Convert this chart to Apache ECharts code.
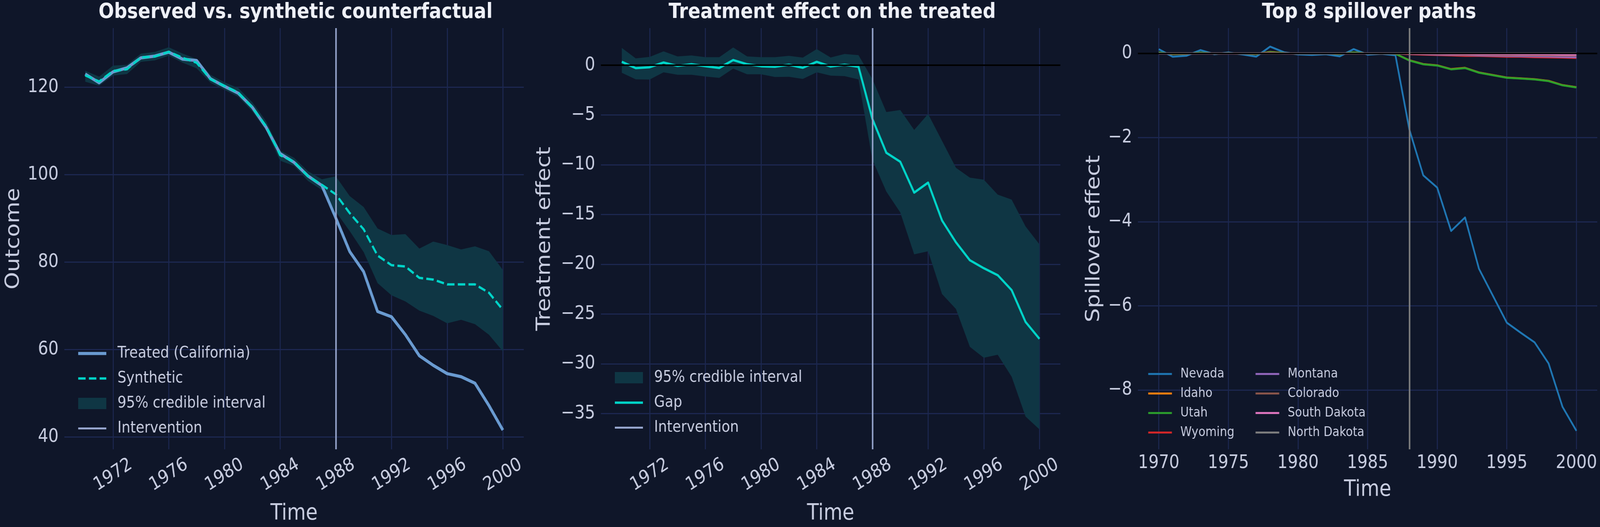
<!DOCTYPE html>
<html>
<head>
<meta charset="utf-8">
<script src="https://cdn.jsdelivr.net/npm/echarts@6/dist/echarts.min.js"></script>
<style>
html, body { margin: 0; padding: 0; background: #0f1629; overflow: hidden; }
#chart { width: 4726px; height: 1350px; transform-origin: 0 0; }
</style>
</head>
<body>
<div id="chart"></div>
<script>
// ---- data ----
const years = [1970, 1971, 1972, 1973, 1974, 1975, 1976, 1977, 1978, 1979,
               1980, 1981, 1982, 1983, 1984, 1985, 1986, 1987, 1988, 1989,
               1990, 1991, 1992, 1993, 1994, 1995, 1996, 1997, 1998, 1999, 2000];
const interventionYear = 1988;

// panel 1: observed vs synthetic
const treated = [123.0, 121.0, 123.5, 124.4, 126.7, 127.1, 128.0, 126.4, 126.1, 121.9,
                 120.2, 118.6, 115.4, 110.8, 104.8, 102.8, 99.7, 97.5, 90.1, 82.4,
                 77.8, 68.7, 67.5, 63.4, 58.6, 56.4, 54.5, 53.8, 52.3, 47.2, 41.6];
const synthetic = [122.7, 121.3, 123.7, 124.1, 126.8, 127.0, 128.1, 126.7, 125.6, 121.8,
                   120.3, 118.75, 115.35, 111.05, 104.45, 102.95, 99.65, 97.65, 95.5, 91.2,
                   87.5, 81.5, 79.3, 79.0, 76.4, 76.0, 74.9, 74.9, 74.9, 73.0, 69.1];
const synthLow = [121.26, 120.31, 122.66, 123.0, 125.81, 126.12, 127.19, 125.59, 124.31, 121.01,
                  119.39, 117.79, 114.46, 110.03, 103.18, 102.02, 98.57, 96.49, 91.5, 87.1,
                  82.3, 75.2, 72.4, 71.0, 68.9, 67.7, 66.0, 66.8, 65.8, 63.4, 59.6];
const synthHigh = [123.76, 122.42, 124.94, 125.11, 127.66, 128.06, 129.13, 127.67, 126.44, 122.81,
                   121.11, 119.78, 116.56, 112.18, 105.51, 103.85, 100.8, 98.93, 99.6, 95.1,
                   92.6, 87.7, 86.2, 86.4, 83.1, 84.7, 83.9, 82.9, 83.6, 82.5, 78.2];

// panel 2: treatment effect
const gap = [0.34, -0.29, -0.2, 0.27, -0.07, 0.1, -0.1, -0.27, 0.52, 0.1,
             -0.1, -0.15, 0.05, -0.25, 0.34, -0.13, 0.05, -0.15, -5.4, -8.8,
             -9.7, -12.8, -11.8, -15.6, -17.8, -19.6, -20.4, -21.1, -22.6, -25.8, -27.5];
const gapLow = [-0.76, -1.42, -1.44, -0.71, -0.96, -0.96, -1.13, -1.27, -0.34, -0.91,
                -0.91, -1.18, -1.16, -1.38, -0.71, -1.05, -1.10, -1.43, -9.5, -12.7,
                -14.8, -19.0, -18.7, -23.0, -24.5, -28.3, -29.4, -29.1, -31.3, -35.3, -36.6];
const gapHigh = [1.74, 0.69, 0.84, 1.40, 0.89, 0.98, 0.81, 0.81, 1.79, 0.89,
                 0.81, 0.81, 0.94, 0.77, 1.62, 0.78, 1.13, 1.01, -1.4, -4.7,
                 -4.5, -6.5, -4.9, -7.6, -10.3, -11.3, -11.5, -13.0, -13.5, -16.2, -18.0];

// panel 3: spillover paths
const nevada = [0.10, -0.08, -0.056, 0.077, -0.02, 0.02, -0.025, -0.078, 0.16, 0.025,
                -0.025, -0.037, -0.02, -0.07, 0.10, -0.03, -0.01, -0.044, -1.81, -2.9,
                -3.19, -4.22, -3.9, -5.12, -5.76, -6.40, -6.64, -6.87, -7.37, -8.40, -8.97];
const idaho = [0.02, -0.02, -0.012, 0.016, -0.004, 0.004, -0.006, -0.016, 0.035, 0.006,
               -0.006, -0.008, -0.004, -0.015, 0.022, -0.006, -0.002, -0.01, -0.165, -0.255,
               -0.285, -0.375, -0.345, -0.455, -0.515, -0.575, -0.595, -0.615, -0.655, -0.755, -0.805];
const utah = [0.02, -0.015, -0.01, 0.015, -0.005, 0.005, -0.005, -0.015, 0.03, 0.005,
              -0.005, -0.008, -0.004, -0.014, 0.02, -0.006, -0.002, -0.01, -0.17, -0.26,
              -0.29, -0.38, -0.35, -0.46, -0.52, -0.58, -0.60, -0.62, -0.66, -0.76, -0.81];
const wyoming = [0, 0, 0, 0, 0, 0, 0, 0, 0.01, 0,
                 0, 0, 0, 0, 0, 0, 0, 0, -0.02, -0.03,
                 -0.04, -0.05, -0.06, -0.06, -0.07, -0.08, -0.08, -0.09, -0.095, -0.10, -0.11];
const montana = [0, 0, 0, 0, 0, 0, 0, 0, 0.005, 0,
                 0, 0, 0, 0, 0, 0, 0, 0, -0.01, -0.02,
                 -0.03, -0.035, -0.04, -0.05, -0.055, -0.06, -0.065, -0.07, -0.075, -0.085, -0.09];
const colorado = [0, 0, 0, 0, 0, 0, 0, 0, 0.005, 0,
                  0, 0, 0, 0, 0, 0, 0, 0, -0.01, -0.015,
                  -0.02, -0.025, -0.03, -0.03, -0.035, -0.04, -0.04, -0.045, -0.045, -0.05, -0.05];
const southDakota = [0, 0, 0, 0, 0, 0, 0, 0, 0, 0,
                     0, 0, 0, 0, 0, 0, 0, 0, -0.005, -0.01,
                     -0.01, -0.015, -0.015, -0.02, -0.02, -0.02, -0.025, -0.025, -0.025, -0.03, -0.03];
const northDakota = [0, 0, 0, 0, 0, 0, 0, 0, 0, 0,
                     0, 0, 0, 0, 0, 0, 0, 0, 0, 0,
                     0, 0, 0, 0, 0, 0, 0, 0, 0, 0, 0];
const spillNames = ['Nevada', 'Idaho', 'Utah', 'Wyoming', 'Montana', 'Colorado', 'South Dakota', 'North Dakota'];
const spillValues = [nevada, idaho, utah, wyoming, montana, colorado, southDakota, northDakota];
const spillColors = ['#1f77b4', '#ff7f0e', '#2ca02c', '#d62728', '#9467bd', '#8c564b', '#e377c2', '#7f7f7f'];

// tick labels
const ticksA = [1972, 1976, 1980, 1984, 1988, 1992, 1996, 2000];
const ticksB = [1970, 1975, 1980, 1985, 1990, 1995, 2000];
const outcomeTicks = [40, 60, 80, 100, 120];
const effectTicks = [0, -5, -10, -15, -20, -25, -30, -35];
const spillTicks = [0, -2, -4, -6, -8];

// ---- style ----
const FONT = 'DejaVu Sans';
const textColor = '#c8cde0';
const gridColor = '#1c2750';
const bandColor = '#0f3644';
const tealColor = '#00d4c8';
const interColor = '#96a5cd';

// layout is drawn at 4726x1350 and fitted to whatever the window really is
const box = document.getElementById('chart');
box.style.transform = 'scale(' + (window.innerWidth / 4726) + ',' + (window.innerHeight / 1350) + ')';

const chart = echarts.init(box);

function minus(v) { return String(v).replace('-', '\u2212'); }
function plain(v) { return String(v); }

function xAxisCfg(idx, ticks, rotated, nameGap) {
    return {
        type: 'value', gridIndex: idx, min: 1968.5, max: 2001.5,
        name: 'Time', nameLocation: 'middle', nameGap: nameGap,
        nameTextStyle: { color: textColor, fontSize: 57, fontFamily: FONT },
        axisLine: { show: false },
        axisTick: { show: false, customValues: ticks },
        axisLabel: rotated ? {
            customValues: ticks, rotate: 30, align: 'center', verticalAlign: 'middle', margin: 66,
            color: textColor, fontSize: 48, fontFamily: FONT, formatter: plain
        } : {
            customValues: ticks, margin: 12, color: textColor, fontSize: 48, fontFamily: FONT, formatter: plain
        },
        splitLine: { show: true, lineStyle: { color: gridColor, width: 3 } }
    };
}

function yAxisCfg(idx, name, ticks, min, max, nameGap) {
    return {
        type: 'value', gridIndex: idx, min: min, max: max,
        name: name, nameLocation: 'middle', nameGap: nameGap,
        nameTextStyle: { color: textColor, fontSize: 57, fontFamily: FONT },
        axisLine: { show: false },
        axisTick: { show: false, customValues: ticks },
        axisLabel: { customValues: ticks, margin: 17, color: textColor, fontSize: 48, fontFamily: FONT, formatter: minus },
        splitLine: { show: true, lineStyle: { color: gridColor, width: 3 } }
    };
}

function pairs(vals) { return years.map((y, i) => [y, vals[i]]); }

function bandSeries(name, idx, lo, hi) {
    return {
        type: 'custom', name: name, xAxisIndex: idx, yAxisIndex: idx, z: 1,
        itemStyle: { color: bandColor },
        data: years.map((y, i) => [y, lo[i], hi[i]]),
        encode: { x: 0, y: [1, 2] },
        renderItem: function (params, api) {
            if (params.dataIndex !== 0) return null;
            const pts = [];
            for (let i = 0; i < years.length; i++) pts.push(api.coord([years[i], hi[i]]));
            for (let i = years.length - 1; i >= 0; i--) pts.push(api.coord([years[i], lo[i]]));
            return { type: 'polygon', shape: { points: pts }, style: { fill: bandColor } };
        }
    };
}

function vLine(name, idx, color, z) {
    return {
        type: 'line', name: name, xAxisIndex: idx, yAxisIndex: idx, data: [], symbol: 'none', z: z,
        lineStyle: { color: color, width: 4.5 },
        markLine: {
            silent: true, symbol: 'none', label: { show: false },
            lineStyle: { color: color, width: 4.5, type: 'solid' },
            data: [{ xAxis: interventionYear }]
        }
    };
}

function zeroLine(idx, z) {
    return {
        type: 'line', name: 'zero' + idx, xAxisIndex: idx, yAxisIndex: idx, data: [], symbol: 'none', z: z,
        markLine: {
            silent: true, symbol: 'none', label: { show: false },
            lineStyle: { color: '#000000', width: 4, type: 'solid' },
            data: [{ yAxis: 0 }]
        }
    };
}

function lineSeries(name, idx, vals, color, width, z, dash) {
    return {
        type: 'line', name: name, xAxisIndex: idx, yAxisIndex: idx, data: pairs(vals),
        symbol: 'none', z: z,
        lineStyle: { color: color, width: width, type: dash || 'solid', join: 'round' },
        itemStyle: { color: color }
    };
}

const series = [
    bandSeries('95% credible interval', 0, synthLow, synthHigh),
    lineSeries('Treated (California)', 0, treated, '#6a9bd1', 8, 2),
    lineSeries('Synthetic', 0, synthetic, tealColor, 6, 3, [22, 9.6]),
    vLine('Intervention', 0, interColor, 5),

    bandSeries('95% credible interval', 1, gapLow, gapHigh),
    zeroLine(1, 2),
    lineSeries('Gap', 1, gap, tealColor, 6, 3),
    vLine('Intervention', 1, interColor, 5)
];
spillNames.forEach(function (n, i) {
    series.push(lineSeries(n, 2, spillValues[i], spillColors[i], 5, 2 + i * 0.01));
});
series.push(zeroLine(2, 4));
series.push(vLine('Intervention ', 2, '#808080', 5));

const legendText = { color: textColor, fontFamily: FONT, fontSize: 41, padding: [0, 0, 0, 28] };
const spillText = { color: textColor, fontFamily: FONT, fontSize: 34, padding: [0, 0, 0, 20] };
const noSymbol = { opacity: 0 };

function spillLegend(left, names) {
    return {
        left: left, top: 941, orient: 'vertical', padding: 0, itemWidth: 70, itemHeight: 24, itemGap: 16,
        textStyle: spillText, selectedMode: false, itemStyle: noSymbol,
        data: names.map(n => ({ name: n, lineStyle: { width: 5 } }))
    };
}

const option = {
    backgroundColor: '#0f1629',
    animation: false,
    title: [
        { text: 'Observed vs. synthetic counterfactual', left: 868, top: 0, textAlign: 'center',
          textStyle: { color: '#eef0f7', fontFamily: FONT, fontWeight: 'bold', fontSize: 54 } },
        { text: 'Treatment effect on the treated', left: 2453, top: 0, textAlign: 'center',
          textStyle: { color: '#eef0f7', fontFamily: FONT, fontWeight: 'bold', fontSize: 54 } },
        { text: 'Top 8 spillover paths', left: 4039, top: 0, textAlign: 'center',
          textStyle: { color: '#eef0f7', fontFamily: FONT, fontWeight: 'bold', fontSize: 54 } }
    ],
    grid: [
        { left: 190, top: 72, width: 1357, height: 1079 },
        { left: 1775, top: 72, width: 1357, height: 1079 },
        { left: 3361, top: 72, width: 1357, height: 1079 }
    ],
    xAxis: [
        xAxisCfg(0, ticksA, true, 137),
        xAxisCfg(1, ticksA, true, 137),
        xAxisCfg(2, ticksB, false, 76)
    ],
    yAxis: [
        yAxisCfg(0, 'Outcome', outcomeTicks, 37.2, 133.5, 120),
        yAxisCfg(1, 'Treatment effect', effectTicks, -38.6, 3.73, 137),
        yAxisCfg(2, 'Spillover effect', spillTicks, -9.41, 0.60, 100)
    ],
    legend: [
        {
            left: 227, top: 885, orient: 'vertical', padding: 0, itemWidth: 83, itemHeight: 29, itemGap: 23,
            textStyle: legendText, selectedMode: false, itemStyle: noSymbol,
            data: [
                { name: 'Treated (California)', lineStyle: { width: 8 } },
                { name: 'Synthetic', lineStyle: { width: 6 } },
                { name: '95% credible interval', icon: 'rect', itemStyle: { opacity: 1 } },
                { name: 'Intervention', lineStyle: { width: 5 } }
            ]
        },
        {
            left: 1813, top: 947, orient: 'vertical', padding: 0, itemWidth: 83, itemHeight: 29, itemGap: 23,
            textStyle: legendText, selectedMode: false, itemStyle: noSymbol,
            data: [
                { name: '95% credible interval', icon: 'rect', itemStyle: { opacity: 1 } },
                { name: 'Gap', lineStyle: { width: 6 } },
                { name: 'Intervention', lineStyle: { width: 5 } }
            ]
        },
        spillLegend(3389, spillNames.slice(0, 4)),
        spillLegend(3706, spillNames.slice(4))
    ],
    series: series
};

chart.setOption(option);
</script>
</body>
</html>
